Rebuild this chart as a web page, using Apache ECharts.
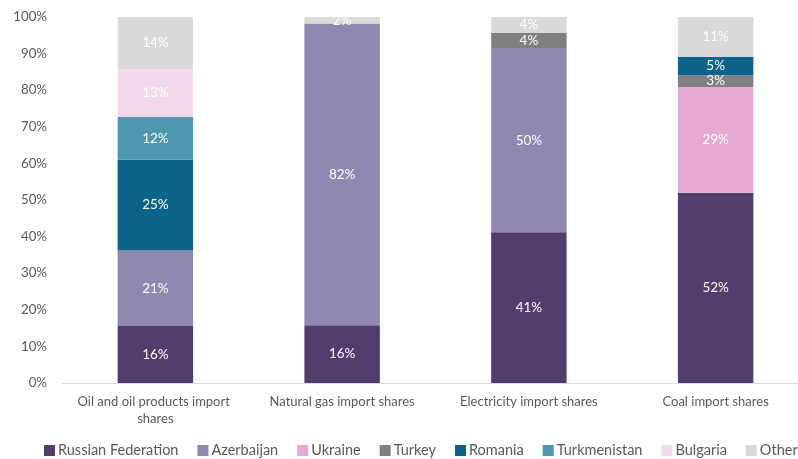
<!DOCTYPE html>
<html>
<head>
<meta charset="utf-8">
<script src="https://cdn.jsdelivr.net/npm/echarts@6/dist/echarts.min.js"></script>
<style>html,body{margin:0;padding:0;background:#fff}#c{width:798px;height:459px}</style>
</head>
<body>
<div id="c"></div>
<script>
var categories = ['Oil and oil products import shares', 'Natural gas import shares', 'Electricity import shares', 'Coal import shares'];
var seriesNames = ['Russian Federation', 'Azerbaijan', 'Ukraine', 'Turkey', 'Romania', 'Turkmenistan', 'Bulgaria', 'Other'];
var russia = [15.6, 15.8, 41.2, 52.0];
var azerbaijan = [20.6, 82.4, 50.3, null];
var ukraine = [null, null, null, 28.9];
var turkey = [null, null, 4.1, 3.2];
var romania = [24.8, null, null, 5.0];
var turkmenistan = [11.7, null, null, null];
var bulgaria = [13.1, null, null, null];
var other = [14.2, 1.8, 4.4, 10.9];
var yTicks = [0, 10, 20, 30, 40, 50, 60, 70, 80, 90, 100];

var colors = ['#513d6c', '#8f88b1', '#e4aad1', '#808080', '#0b6389', '#4f97b0', '#f4d9eb', '#d9d9d9'];
var values = [russia, azerbaijan, ukraine, turkey, romania, turkmenistan, bulgaria, other];
var font = 'Lato, "Open Sans", sans-serif';

var chart = echarts.init(document.getElementById('c'), null, {renderer: 'canvas'});
chart.setOption({
  animation: false,
  textStyle: {fontFamily: font},
  grid: {left: 62, width: 747, top: 17, bottom: 76, containLabel: false, outerBoundsMode: 'none'},
  legend: {
    top: 438,
    left: 44,
    width: 790,
    padding: [5, 0, 5, 0],
    itemWidth: 11,
    itemHeight: 11,
    itemGap: 19,
    icon: 'rect',
    textStyle: {color: '#595959', fontSize: 14.5, fontFamily: font, padding: [0, 0, 0, -2]},
    data: seriesNames
  },
  xAxis: {
    type: 'category',
    data: categories,
    axisLine: {lineStyle: {color: '#d9d9d9', width: 1}},
    axisTick: {show: false},
    axisLabel: {color: '#595959', fontSize: 13, margin: 10, width: 160, overflow: 'break', lineHeight: 17, interval: 0}
  },
  yAxis: {
    type: 'value',
    min: yTicks[0],
    max: yTicks[yTicks.length - 1],
    interval: 10,
    splitLine: {show: false},
    axisLine: {show: false},
    axisTick: {show: false},
    axisLabel: {color: '#595959', fontSize: 13.3, margin: 15, formatter: '{value}%'}
  },
  series: seriesNames.map(function (n, i) {
    return {
      name: n,
      type: 'bar',
      stack: 'total',
      barCategoryGap: '59.6%',
      data: values[i],
      itemStyle: {color: colors[i]},
      label: {
        show: true,
        position: 'inside',
        color: '#ffffff',
        fontSize: 13.5,
        fontFamily: font,
        formatter: function (p) { return p.value == null ? '' : Math.round(p.value) + '%'; }
      }
    };
  })
});
</script>
</body>
</html>
